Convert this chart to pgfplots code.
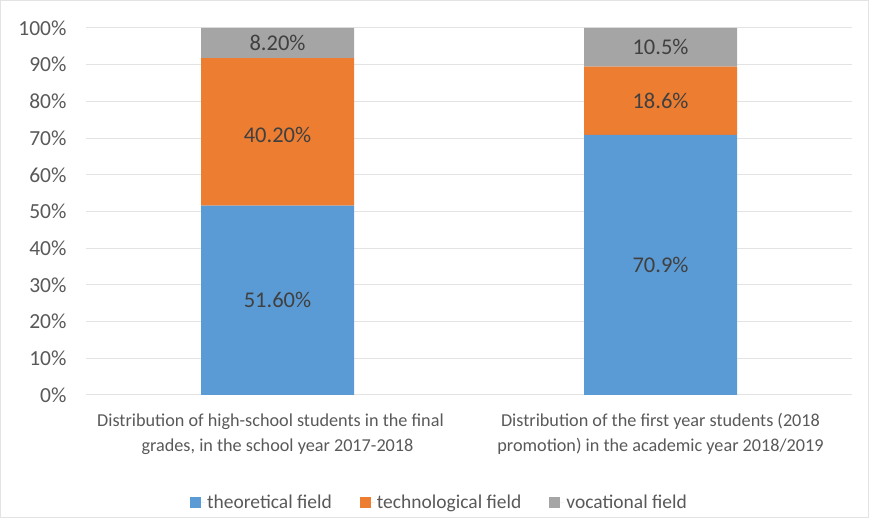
\documentclass[border=0pt]{standalone}
\usepackage{pgfplots}
\pgfplotsset{compat=1.18}
\usepackage{fontspec}
\setmainfont{Carlito}
\definecolor{cblue}{HTML}{5B9BD5}
\definecolor{corange}{HTML}{ED7D31}
\definecolor{cgray}{HTML}{A5A5A5}
\definecolor{ctext}{HTML}{595959}
\definecolor{clab}{HTML}{404040}
\definecolor{cgrid}{HTML}{E3E3E3}
\begin{document}
\begin{tikzpicture}[x=1pt,y=1pt]
\useasboundingbox (-86,-123) rectangle (783,395);
\draw[cgrid] (-85.5,-122.5) rectangle (782.5,394.5);
\begin{axis}[
  at={(0,0)}, anchor=south west,
  scale only axis, width=766pt, height=367pt,
  ybar stacked, bar width=153pt,
  xmin=-0.5, xmax=1.5, ymin=0, ymax=100,
  xtick={0,1},
  xticklabels={{\hspace*{-14pt}Distribution of high-school students in the final\\grades, in the school year 2017-2018},{Distribution of the first year students (2018\\promotion) in the academic year 2018/2019}},
  xticklabel style={align=center, text=ctext, yshift=-15pt, font=\fontsize{18.2}{25}\selectfont},
  ytick={0,10,...,100},
  yticklabel={\pgfmathprintnumber{\tick}\%},
  yticklabel style={text=ctext, xshift=-16pt, font=\fontsize{21.5}{24}\selectfont},
  /pgf/number format/assume math mode=true,
  major tick length=0pt,
  ymajorgrids, grid style={cgrid, line width=1pt},
  axis line style={draw=none},
  legend style={at={(0.4615,-0.292)}, anchor=center, draw=none, legend columns=3, font=\fontsize{19.5}{22}\selectfont, text=ctext, /tikz/every even column/.append style={column sep=26pt}},
  legend image code/.code={\fill[#1] (0pt,-5.5pt) rectangle (11pt,5.5pt); \path (0pt,0pt) -- (15pt,0pt);},
]
\addplot[fill=cblue, draw=none] coordinates {(0,51.6) (1,70.9)};
\addplot[fill=corange, draw=none] coordinates {(0,40.2) (1,18.6)};
\addplot[fill=cgray, draw=none] coordinates {(0,8.2) (1,10.5)};
\legend{theoretical field, technological field, vocational field}
\end{axis}
\begin{axis}[
  at={(0,0)}, anchor=south west,
  scale only axis, width=766pt, height=367pt,
  xmin=-0.5, xmax=1.5, ymin=0, ymax=100,
  hide axis,
]
\addplot[draw=none, mark=none, nodes near coords, point meta=explicit symbolic,
  every node near coord/.append style={anchor=center, text=clab, font=\fontsize{22.5}{24}\selectfont}]
  coordinates {(0,25.8)[51.60\%] (0,71.0)[40.20\%] (0,95.9)[8.20\%]
               (1,35.45)[70.9\%] (1,80.2)[18.6\%] (1,94.75)[10.5\%]};
\end{axis}
\end{tikzpicture}
\end{document}
